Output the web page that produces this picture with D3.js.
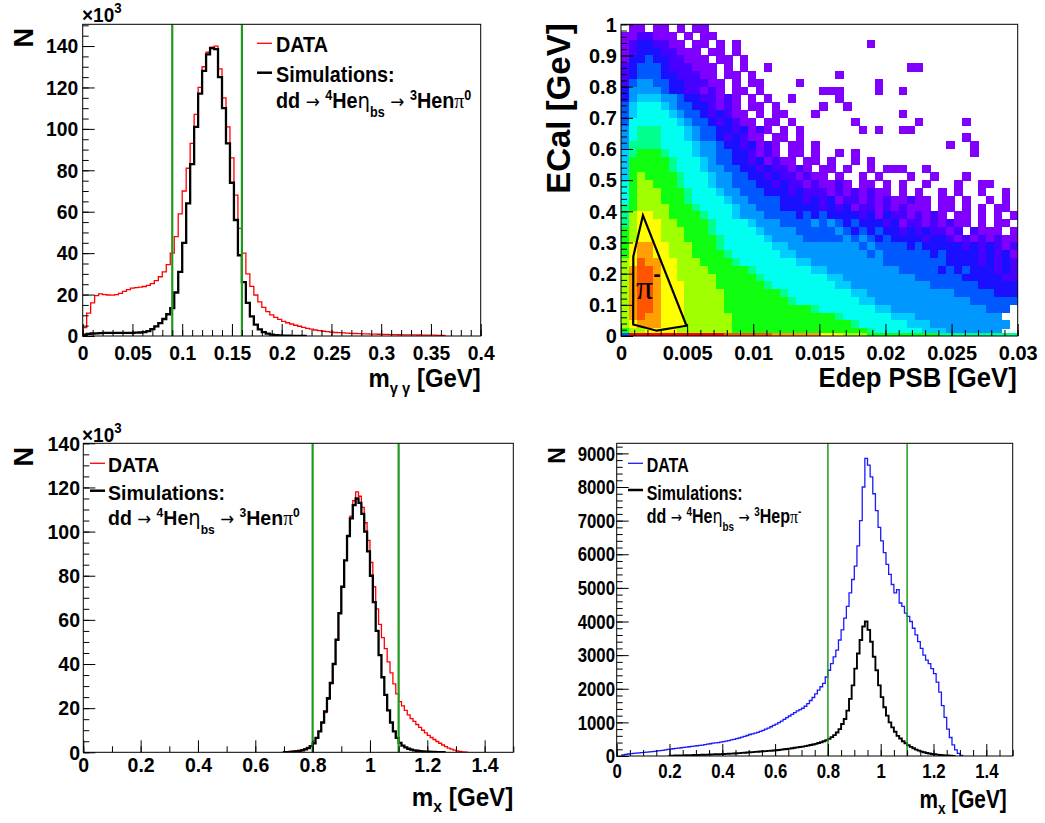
<!DOCTYPE html>
<html><head><meta charset="utf-8">
<script src="https://cdn.jsdelivr.net/npm/d3@7"></script>
<style>
body{margin:0;background:#fff}
svg{display:block}
</style></head><body>
<svg id="c" width="1045" height="823"></svg>
<script>
// ---------------- DATA ----------------
// Top-left: m_gg histogram (x10^3 counts), bins of 0.004 GeV starting at 0
const ggStart = 0, ggBin = 0.004;
const ggData = [4,11,16,19.5,20.3,20,19.8,19.7,20,20.6,21.5,22.4,23.1,23.4,23.6,23.9,24.4,25.3,26.7,28.6,31,34.5,40,48,59,70,81,93,107,120,130,137,139.5,140,129,115,101,86,68,52,40,30,24,19.8,16.5,13.8,11.8,10.2,9,8,7.1,6.4,5.8,5.2,4.7,4.2,3.7,3.3,2.9,2.6,2.3,2.1,1.9,1.7,1.6,1.5,1.4,1.3,1.2,1.1,1.05,1.0,0.95,0.9,0.85,0.8,0.75,0.7,0.65,0.6,0.58,0.55,0.52,0.5,0.48,0.45,0.42,0.4,0.38,0.35,0.3];
const ggSim = [0.6,1.0,1.2,1.3,1.4,1.5,1.5,1.5,1.5,1.5,1.5,1.5,1.5,1.6,1.7,1.9,2.4,3.3,4.6,6.2,8.2,10.5,13.5,21,31,45,64,83,101,117,128,136,139,138.5,125,110,93,74,56,39,26,16,9.5,5.5,3.2,1.9,1.1,0.7,0.45,0.3,0.2,0.15,0.1,0.08,0.05,0.04];
const ggCuts = [0.09, 0.16];
const ggXTicks = [0,0.05,0.1,0.15,0.2,0.25,0.3,0.35,0.4];
const ggYTicks = [0,20,40,60,80,100,120,140];

// Bottom-left: m_x (pi0 channel), bins 0.01 GeV starting at 0.70 (x10^3)
const mx0Start = 0.70, mx0Bin = 0.01;
const mx0Data = [0.2,0.3,0.4,0.5,0.7,0.9,1.2,1.6,2.2,3.0,4.0,6.5,9.5,13.5,18,24,31,40,51,63,75,87,98,107,114,118,116,111,104,96,86,75,65,58,52,47,41,36,31,26.5,23,21,19,17,15.3,14,12.6,11.3,10,8.8,7.7,6.7,5.8,4.9,4.1,3.3,2.6,1.9,1.4,1.0,0.6,0.4,0.2,0.1];
const mx0Sim = [0.05,0.1,0.2,0.3,0.4,0.6,0.9,1.3,1.9,2.8,4.0,6.5,9.5,13.5,18.5,24.5,31.5,40,51,63,75,87,98,106,112,115,113,108,100,91,80,68,55,44,34,26,19,13.5,9.5,6.5,4.3,3.0,2.2,1.6,1.2,0.9,0.7,0.5,0.4,0.3,0.25,0.2,0.15,0.1,0.1,0.05];
const mxCuts = [0.8, 1.1];
const mxXTicks = [0,0.2,0.4,0.6,0.8,1,1.2,1.4];
const mx0YTicks = [0,20,40,60,80,100,120,140];

// Bottom-right: m_x (pi- channel), bins 0.01 GeV
const mxmDataStart = 0.02, mxmSimStart = 0.20, mxmBin = 0.01;
const mxmData = [30,50,60,70,80,85,95,100,110,115,125,130,140,150,160,170,180,195,205,215,225,235,245,255,265,275,285,295,305,315,325,340,355,365,380,390,400,415,430,445,460,480,495,515,535,560,585,610,640,660,680,700,730,760,800,830,870,910,950,990,1040,1090,1140,1190,1240,1290,1340,1380,1420,1480,1560,1650,1740,1850,1960,2060,2160,2350,2550,2750,2950,3150,3450,3750,4100,4450,4850,5250,5650,6250,7000,8000,8850,8650,8300,7800,7300,6800,6400,6050,5700,5400,5100,4850,4950,4550,4450,4250,4150,4000,3800,3600,3400,3200,3000,2850,2750,2600,2450,2200,1900,1500,1150,800,550,330,180,80,20];
const mxmSim = [10,12,14,16,18,20,22,24,26,28,30,33,36,39,42,45,48,51,54,57,60,64,68,72,76,80,85,92,98,104,110,116,122,128,134,140,146,152,158,164,170,180,190,200,210,220,232,244,256,268,280,295,310,325,340,360,385,410,440,470,510,560,620,700,800,950,1100,1350,1700,2100,2600,3050,3450,3850,4000,3750,3400,2950,2550,2100,1750,1450,1200,1000,850,720,600,520,440,380,320,270,230,190,160,130,110,90,75,60,50,40,30,25,20,15,10,5];
const mxmYTicks = [0,1000,2000,3000,4000,5000,6000,7000,8000,9000];

// Top-right: ECal vs Edep PSB 2D histogram, colour level per cell
// columns: 50 bins of 0.0006 GeV; rows: 40 bins of 0.025 GeV, listed top row first
const ecalXBin = 0.0006, ecalYBin = 0.025, ecalStripH = 0.01;
const ecalRows = [
"01101101011",
"1122111010110",
"12332211011010",
"123332211101101",
"1334332211101101",
"2344432221110101",
"23444332221101101",
"2455443322211010110",
"355554332212101101",
"3566655433221210101",
"46777654433212101101",
"467777654432321101011",
"4777777654432321101101",
"57888777654433231210101",
"57888777654432321101101",
"5888877776554332312101101",
"689998777655443321210110100101",
"69999987776544332312110110100101",
"699999877765544332322121011010010001001",
"69a99998777655443323221211010010100010010",
"79aa999877765544433232212112101101010010001",
"79aaa99987776554443332322212121211010100101001001",
"79aaa999877776554444333232312212121121101101001010",
"89aaaa99987777655444333332323122121211101101010110",
"8abbaa99998777655544443434333323132212121011010101",
"8abbbaa9999877776555444454543433323122121211010110",
"9abbbaaa999877777655554444454343433232322120211101",
"9abbbaaa999987777765555444445454343333233212121211",
"9bccbbaaa99987777776655555555545444434333332323212",
"9bccbbaaa99998777777665555555554544444434333323231",
"abdccbbaaa9999877777776655555555544444444333323232",
"acddcbbaaaa999998777777766555555555444443434333232",
"acddcbbaaaaa99999877777777665555555554444443333322",
"acddcbbbaaaa99999987777777766555555555544444433333",
"acddcbbbaaaaa9999999877777777665555555555544444333",
"acddcbbbaaaaa99999999877777777665555555555554444444",
"acddcbbbaaaaa999999999998777777766555555555555444",
"acdccbbbaaaaaa9999999999999877777766655555555555",
"abcccbbbaaaaaa99999999999999987777776665555555555",
"9aabbbbaaaaaaa9999999999999999987777776665555555"
];
// bottom strip (ECal ~ 0)
const ecalStrip = "4eeeeeeeeeeeeddddddccccccbbbaaa9999999998888888888";
// isolated single cells [column, row from bottom]
const ecalIsolated = [[14,37],[31,37],[18,34],[36,34],[37,34],[27,33],[22,32],[32,32],[25,31],[26,31],[27,31],[32,31],[35,31],[21,30],[27,30],[28,29],[25,29],[24,28],[35,28],[29,27],[37,27],[43,27],[30,26],[32,26],[35,26],[36,26],[43,25],[41,24],[44,24],[44,23],[33,21],[34,21],[43,20],[42,19],[45,19],[46,19],[41,17],[46,17],[48,17]];
const zColors = {"1":"#8000ff","2":"#4800ff","3":"#1a10ff","4":"#0058ff","5":"#0098ff","6":"#00ccff","7":"#00fff0","8":"#00ff8c","9":"#10ff10","a":"#a0ff00","b":"#ffff00","c":"#ffa000","d":"#ff5500","e":"#ff0000"};
const piCut = [[0.00092,0.037],[0.00093,0.255],[0.00166,0.387],[0.00495,0.033],[0.0027,0.017]];
const ecalXTicks = [0,0.005,0.01,0.015,0.02,0.025,0.03];
const ecalYTicks = [0,0.1,0.2,0.3,0.4,0.5,0.6,0.7,0.8,0.9,1];

// ---------------- DRAWING ----------------
const FONT = "'Liberation Sans', Arial, Helvetica, sans-serif";
const SERIF = "'Liberation Serif', 'DejaVu Serif', serif";
const SYM = "'DejaVu Sans', sans-serif";
const svg = d3.select('#c');
const fmt = d3.format('~g');
const rng = (a, b, s) => d3.range(Math.round((b - a) / s) + 1).map(i => +(a + i * s).toFixed(6));

function rich(parent, x, y, segs, o) {
  const g = parent.append('g').attr('transform', `translate(${x},${y})` + (o.rot ? ` rotate(${o.rot})` : '') + ` scale(${o.sx || 1},1)`);
  const t = g.append('text').attr('text-anchor', o.anchor || 'start').attr('font-size', o.size)
    .attr('font-family', FONT).attr('font-weight', 'bold').attr('fill', '#000').style('white-space', 'pre');
  let cur = 0;
  segs.forEach(s => {
    if (typeof s === 'string') s = {t: s};
    const off = s.off || 0;
    const ts = t.append('tspan').text(s.t).attr('dy', off - cur);
    cur = off;
    if (s.size) ts.attr('font-size', s.size);
    if (s.font) ts.attr('font-family', s.font);
    if (s.w) ts.attr('font-weight', s.w);
  });
  return t;
}

function axes(g, x, y, o) {
  const yb = y.range()[0], xl = x.range()[0];
  const addAxis = (gen, tr, vals, len, pad, labels, fs, sx) => {
    const a = g.append('g').attr('transform', tr)
      .call(gen.tickValues(vals).tickSize(-len).tickPadding(pad).tickFormat(labels ? fmt : ''));
    a.select('.domain').remove();
    a.attr('font-family', FONT).attr('font-size', fs).attr('font-weight', 'bold');
    a.selectAll('line').attr('stroke', '#000').attr('stroke-width', 1);
    a.selectAll('text').attr('fill', '#000').attr('transform', `scale(${sx},1)`);
  };
  addAxis(d3.axisBottom(x), `translate(0,${yb})`, o.xMinor, 6, 0, false, o.fs, o.sx);
  addAxis(d3.axisBottom(x), `translate(0,${yb})`, o.xMajor, 12, o.padB, true, o.fs, o.sx);
  addAxis(d3.axisLeft(y), `translate(${xl},0)`, o.yMinor, 6, 0, false, o.fs, o.sx);
  addAxis(d3.axisLeft(y), `translate(${xl},0)`, o.yMajor, 12, o.padL, true, o.fs, o.sx);
  g.append('rect').attr('x', xl).attr('y', y.range()[1]).attr('width', x.range()[1] - xl)
    .attr('height', yb - y.range()[1]).attr('fill', 'none').attr('stroke', '#000').attr('stroke-width', 1);
}

let clipId = 0;
function clip(g, x, y) {
  const id = 'clip' + (clipId++);
  svg.append('clipPath').attr('id', id).append('rect').attr('x', x.range()[0]).attr('y', y.range()[1])
    .attr('width', x.range()[1] - x.range()[0]).attr('height', y.range()[0] - y.range()[1]);
  return g.append('g').attr('clip-path', `url(#${id})`);
}

function histPts(start, w, vals) {
  const p = [[start, 0]];
  vals.forEach((v, i) => p.push([+(start + i * w).toFixed(6), v]));
  p.push([+(start + vals.length * w).toFixed(6), 0]);
  return p;
}
function hist(g, x, y, start, w, vals, color, width) {
  const line = d3.line().x(d => x(d[0])).y(d => y(d[1])).curve(d3.curveStepAfter);
  g.append('path').attr('d', line(histPts(start, w, vals))).attr('fill', 'none')
    .attr('stroke', color).attr('stroke-width', width).attr('stroke-linejoin', 'miter');
}
function cuts(g, x, y, vals, width) {
  g.selectAll(null).data(vals).enter().append('line')
    .attr('x1', d => x(d)).attr('x2', d => x(d)).attr('y1', y.range()[0]).attr('y2', y.range()[1])
    .attr('stroke', '#1e9a1e').attr('stroke-width', width);
}
function legend(parent, o) {
  parent.append('line').attr('x1', o.lx0).attr('x2', o.lx1).attr('y1', o.ly1).attr('y2', o.ly1).attr('stroke', o.c1).attr('stroke-width', 1.3);
  parent.append('line').attr('x1', o.lx0).attr('x2', o.lx1).attr('y1', o.ly2).attr('y2', o.ly2).attr('stroke', '#000').attr('stroke-width', 2.5);
  rich(parent, o.tx, o.b1, ['DATA'], {size: o.size, sx: o.sx});
  rich(parent, o.tx, o.b2, ['Simulations:'], {size: o.size, sx: o.sx});
  const ss = Math.round(o.size * 0.62), up = -Math.round(o.size * 0.38), dn = Math.round(o.size * 0.42);
  rich(parent, o.tx, o.b3, [
    'dd ', {t: '→', font: SYM, w: 'normal', size: o.size * 0.85}, ' ',
    {t: '4', size: ss, off: up}, 'He', {t: 'η', font: SYM, w: 'normal'}, {t: 'bs', size: ss, off: dn}, ' ',
    {t: '→', font: SYM, w: 'normal', size: o.size * 0.85}, ' ', {t: '3', size: ss, off: up}, o.last,
    {t: 'π', font: SERIF, w: 'normal'}, {t: o.sup, size: ss, off: up}
  ], {size: o.size, sx: o.sx});
}

// ---- Top-left panel ----
{
  const x = d3.scaleLinear().domain([0, 0.4]).range([82.7, 480.7]);
  const y = d3.scaleLinear().domain([0, 150.5]).range([336, 24.3]);
  const g = svg.append('g');
  const c = clip(g, x, y);
  hist(c, x, y, ggStart, ggBin, ggData, '#ff0000', 1.3);
  hist(c, x, y, ggStart, ggBin, ggSim, '#000', 2.3);
  cuts(c, x, y, ggCuts, 2.2);
  axes(g, x, y, {xMajor: ggXTicks, xMinor: rng(0, 0.4, 0.01), yMajor: ggYTicks, yMinor: rng(0, 150, 5), fs: 21, sx: 0.92, padB: 9, padL: 4.8});
  rich(svg, 33, 28, ['N'], {rot: -90, anchor: 'end', size: 27});
  rich(svg, 82, 21.7, ['×10', {t: '3', size: 14, off: -9}], {size: 20, sx: 0.95});
  rich(svg, 480.7, 387, ['m', {t: 'γ γ', size: 16, off: 7}, ' [GeV]'], {anchor: 'end', size: 26, sx: 0.92});
  legend(svg, {lx0: 257, lx1: 272, ly1: 43.3, ly2: 72.7, tx: 276, b1: 52, b2: 82, b3: 108, size: 22, sx: 0.9, c1: '#ff0000', last: 'Hen', sup: '0'});
}

// ---- Top-right panel (2D) ----
{
  const x = d3.scaleLinear().domain([0, 0.03]).range([621, 1017.7]);
  const y = d3.scaleLinear().domain([0, 1]).range([336, 24.3]);
  const g = svg.append('g');
  const c = clip(g, x, y).attr('shape-rendering', 'crispEdges');
  const cells = [];
  ecalRows.forEach((row, i) => {
    const r = ecalRows.length - 1 - i;
    row.padEnd(50, '0').slice(0, 50).split('').forEach((ch, col) => { if (ch !== '0') cells.push({col, y0: r * ecalYBin, y1: (r + 1) * ecalYBin, ch}); });
  });
  ecalIsolated.forEach(([col, r]) => cells.push({col, y0: r * ecalYBin, y1: (r + 1) * ecalYBin, ch: '1'}));
  ecalStrip.split('').forEach((ch, col) => cells.push({col, y0: 0, y1: ecalStripH, ch}));
  c.selectAll(null).data(cells).enter().append('rect')
    .attr('x', d => x(d.col * ecalXBin)).attr('width', d => x((d.col + 1) * ecalXBin) - x(d.col * ecalXBin) + 0.5)
    .attr('y', d => y(d.y1)).attr('height', d => y(d.y0) - y(d.y1) + 0.5)
    .attr('fill', d => zColors[d.ch]);
  const poly = d3.line().x(d => x(d[0])).y(d => y(d[1]));
  c.append('path').attr('d', poly(piCut) + 'Z').attr('fill', 'none').attr('stroke', '#000').attr('stroke-width', 2.2).attr('shape-rendering', 'auto');
  axes(g, x, y, {xMajor: ecalXTicks, xMinor: rng(0, 0.03, 0.001), yMajor: ecalYTicks, yMinor: rng(0, 1, 0.02), fs: 21, sx: 0.95, padB: 9, padL: 4.5});
  rich(svg, 636, 299, [{t: 'π', font: SERIF, w: 'normal'}, {t: '-', size: 22, off: -18}], {size: 34});
  rich(svg, 570, 23.3, ['ECal [GeV]'], {rot: -90, anchor: 'end', size: 33});
  rich(svg, 1016.7, 387, ['Edep PSB [GeV]'], {anchor: 'end', size: 27, sx: 0.95});
}

// ---- Bottom-left panel ----
{
  const x = d3.scaleLinear().domain([0, 1.5]).range([83.3, 513.3]);
  const y = d3.scaleLinear().domain([0, 140]).range([752.3, 443.3]);
  const g = svg.append('g');
  const c = clip(g, x, y);
  hist(c, x, y, mx0Start, mx0Bin, mx0Data, '#ff0000', 1.3);
  hist(c, x, y, mx0Start, mx0Bin, mx0Sim, '#000', 2.3);
  cuts(c, x, y, mxCuts, 2.2);
  axes(g, x, y, {xMajor: mxXTicks, xMinor: rng(0, 1.5, 0.1), yMajor: mx0YTicks, yMinor: rng(0, 140, 5), fs: 21, sx: 0.93, padB: 5, padL: 3.5});
  rich(svg, 33, 447, ['N'], {rot: -90, anchor: 'end', size: 27});
  rich(svg, 82, 441.7, ['×10', {t: '3', size: 14, off: -9}], {size: 20, sx: 0.95});
  rich(svg, 513.3, 806, ['m', {t: 'x', size: 17, off: 6}, ' [GeV]'], {anchor: 'end', size: 26, sx: 0.93});
  legend(svg, {lx0: 90, lx1: 105, ly1: 463.3, ly2: 490.7, tx: 108, b1: 471.7, b2: 500, b3: 524.5, size: 21, sx: 0.93, c1: '#ff0000', last: 'Hen', sup: '0'});
}

// ---- Bottom-right panel ----
{
  const x = d3.scaleLinear().domain([0, 1.5]).range([616.7, 1012.7]);
  const y = d3.scaleLinear().domain([0, 9300]).range([756, 443.3]);
  const g = svg.append('g');
  const c = clip(g, x, y);
  hist(c, x, y, mxmDataStart, mxmBin, mxmData, '#1a1aff', 1.3);
  hist(c, x, y, mxmSimStart, mxmBin, mxmSim, '#000', 1.9);
  cuts(c, x, y, mxCuts, 1.5);
  axes(g, x, y, {xMajor: mxXTicks, xMinor: rng(0, 1.5, 0.05), yMajor: mxmYTicks, yMinor: rng(0, 9200, 200), fs: 21, sx: 0.8, padB: 7, padL: 2.1});
  rich(svg, 565, 447, ['N'], {rot: -90, anchor: 'end', size: 23});
  rich(svg, 1006.7, 808, ['m', {t: 'x', size: 17, off: 6}, ' [GeV]'], {anchor: 'end', size: 26, sx: 0.8});
  legend(svg, {lx0: 628, lx1: 643, ly1: 463.3, ly2: 490, tx: 646.7, b1: 471.7, b2: 499.5, b3: 523.3, size: 19.5, sx: 0.82, c1: '#1a1aff', last: 'Hep', sup: '-'});
}
</script>
</body></html>
